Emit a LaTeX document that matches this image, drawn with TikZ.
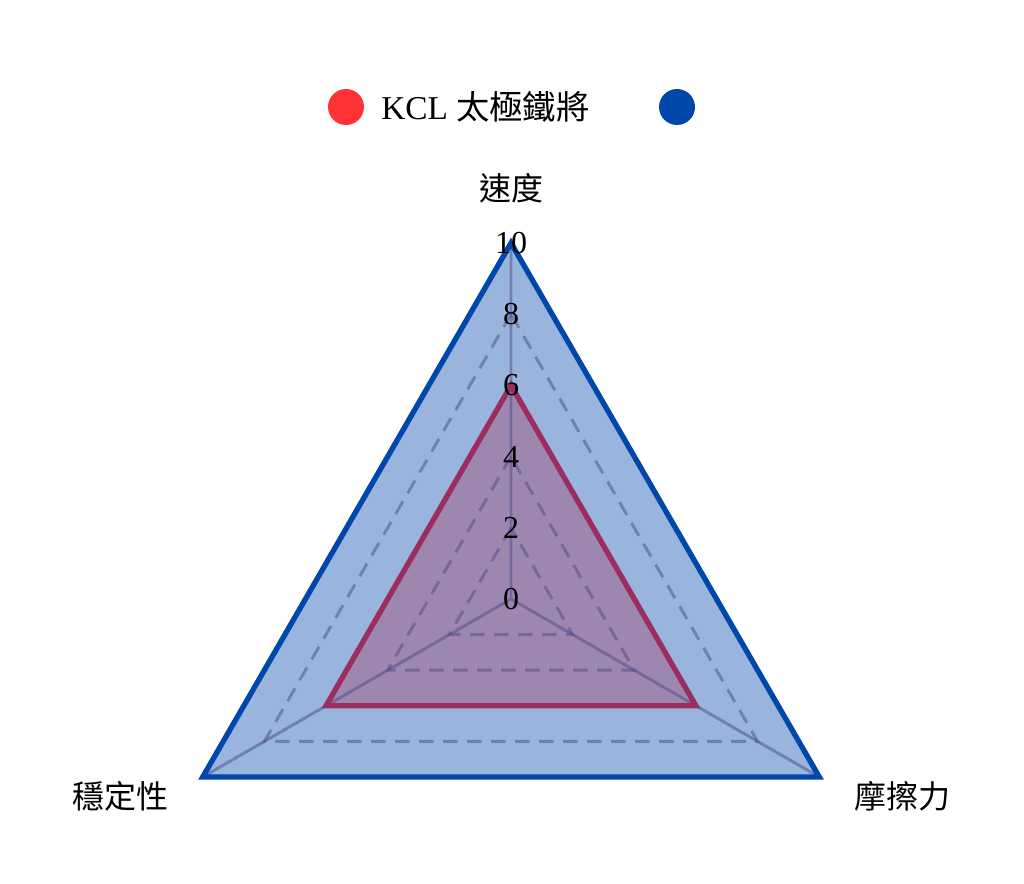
\documentclass[tikz,border=0pt]{standalone}
\usepackage{fontspec}
\setmainfont{Liberation Serif}
\newfontfamily\cjk{Noto Sans CJK TC}
\begin{document}
\begin{tikzpicture}[x=0.75pt,y=-0.75pt,
  lbl/.style={font=\fontsize{24}{28}\selectfont\cjk, inner sep=0pt},
  tick/.style={font=\fontsize{24}{28}\selectfont, inner sep=0pt},
  grid/.style={draw=black!45!blue!40!gray, opacity=0.5, line width=2.2pt},
  dot/.style={circle, minimum size=27pt, inner sep=0pt}]
\useasboundingbox (0,0) rectangle (1024,884);
\coordinate (O) at (511,599);
\path (O) ++(0,-356) coordinate (A10);
\path (O) ++(-308.3,178) coordinate (B10);
\path (O) ++(308.3,178) coordinate (C10);
\foreach \v in {2,4,6,8}{
  \path (O) ++(0,-35.6*\v) coordinate (A\v);
  \path (O) ++(-30.83*\v,17.8*\v) coordinate (B\v);
  \path (O) ++(30.83*\v,17.8*\v) coordinate (C\v);
}
% blue series
\fill[fill={rgb,255:red,0;green,71;blue,171}, fill opacity=0.4] (A10)--(B10)--(C10)--cycle;
% red series
\fill[fill={rgb,255:red,170;green,40;blue,80}, fill opacity=0.33] (A6)--(B6)--(C6)--cycle;
% grid
\foreach \v in {2,4,6,8}{
  \draw[grid, dash pattern=on 11pt off 7pt] (A\v)--(B\v)--(C\v)--cycle;
}
\draw[grid] (O)--(A10) (O)--(B10) (O)--(C10);
\draw[draw={rgb,255:red,155;green,45;blue,95}, line width=4pt, line join=miter] (A6)--(B6)--(C6)--cycle;
\draw[draw={rgb,255:red,0;green,71;blue,171}, line width=4pt, line join=miter] (A10)--(B10)--(C10)--cycle;
% ticks
\foreach \v in {0,2,4,6,8,10}{
  \node[tick] (t\v) at (511,{599-35.6*\v}) {\v};
}
% axis labels
\node[lbl] (la) at (511,188) {速度};
\node[lbl] (lb) at (120,796) {穩定性};
\node[lbl] (lc) at (902,796) {摩擦力};
% legend
\node[dot, fill={rgb,255:red,255;green,51;blue,51}] (d1) at (346,107) {};
\node[anchor=west, inner sep=0pt, font=\fontsize{25}{29}\selectfont] (l1) at (381,107) {KCL {\cjk 太極鐵將}};
\node[dot, fill={rgb,255:red,0;green,71;blue,171}] (d2) at (677,107) {};
\end{tikzpicture}
\end{document}
